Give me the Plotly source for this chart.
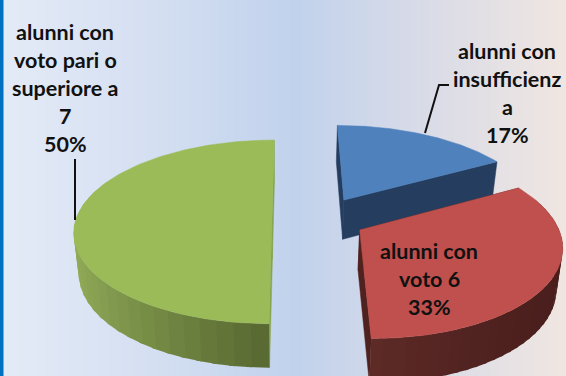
import numpy as np
import plotly.graph_objects as go

# Data
categories = ["alunni con insufficienza", "alunni con voto 6", "alunni con voto pari o superiore a 7"]
values = [17, 33, 50]
label_lines = [
    ["alunni con", "insufficienz", "a"],
    ["alunni con", "voto 6"],
    ["alunni con", "voto pari o", "superiore a", "7"],
]

# Per-slice styling and explosion offsets on the pie's ground plane
top_colors = ["#4F81BD", "#BF504D", "#9BBB59"]
cut_colors = ["#253D5E", "#4F211F", "#86A24E"]
rim_colors = [("#253D5E", "#253D5E"), ("#5E2B27", "#491E1C"), ("#90AB58", "#55652F")]
explode_x = [55.5, 68.5, -18.0]
explode_y = [0.217, -0.12, 0.0]
label_x = [507, 429, 65]
label_y = [51, 251, 32]

# Pie camera model
VANISH_X, HORIZON_Y = 290.0, 219.0
RADIUS_X, RADIUS_Y = 196.0, 90.0
DEPTH_K, BASE_SHRINK, THICKNESS = 0.14, 0.977, 40.0
LINE_STEP = 28.1

bg_stops = [(0, "#E4EBF7"), (0.25, "#D6E0F2"), (0.52, "#C1D2EC"), (0.72, "#D6DAE8"), (1, "#F0E6E1")]


def project(X, Y, base=False):
    s = 1 / (1 + DEPTH_K * Y)
    shrink = BASE_SHRINK if base else 1.0
    x = VANISH_X + X * s * shrink
    y = HORIZON_Y - RADIUS_Y * Y * s * shrink + (THICKNESS * s if base else 0)
    return x, y


def mix(a, b, t):
    ca = [int(a[i:i + 2], 16) for i in (1, 3, 5)]
    cb = [int(b[i:i + 2], 16) for i in (1, 3, 5)]
    return "rgb(%d,%d,%d)" % tuple(round(p + (q - p) * t) for p, q in zip(ca, cb))


def poly(xs, ys, color, stroke=0.5):
    return go.Scatter(
        x=np.asarray(xs), y=np.asarray(ys), mode="lines", fill="toself",
        fillcolor=color, line=dict(color=color, width=stroke), hoverinfo="skip", showlegend=False,
    )


fig = go.Figure()

# Backdrop gradient
grad_x = np.linspace(0, 566, 114)
fig.add_trace(go.Heatmap(
    x=grad_x, y=[0, 376], z=[grad_x, grad_x], zmin=0, zmax=566, zsmooth="best",
    colorscale=[list(s) for s in bg_stops], showscale=False, hoverinfo="skip",
))

# Slices, back to front
total = sum(values)
edges = np.cumsum([0] + values) / total * 2 * np.pi
for i in range(len(values)):
    t0, t1 = edges[i], edges[i + 1]
    th = np.linspace(t0, t1, 121)
    X = explode_x[i] + RADIUS_X * np.sin(th)
    Y = explode_y[i] + np.cos(th)
    ax, ay = project(explode_x[i], explode_y[i])
    bx, by = project(explode_x[i], explode_y[i], base=True)
    tx, ty = project(X, Y)
    ux, uy = project(X, Y, base=True)

    # Cut faces run from the apex out to each end of the arc
    for k in (0, -1):
        fig.add_trace(poly([ax, tx[k], ux[k], bx, ax], [ay, ty[k], uy[k], by, ay], cut_colors[i]))

    # Outer wall, shaded in strips across its width; each strip overlaps the next
    step = 3
    span = (tx.min(), tx.max())
    for j in np.arange(0, len(th) - 1, step):
        e = min(j + step + 1, len(th) - 1)
        if Y[j] > explode_y[i] + 0.3 and Y[e] > explode_y[i] + 0.3:
            continue
        f = ((tx[j] + tx[e]) / 2 - span[0]) / (span[1] - span[0])
        color = mix(rim_colors[i][0], rim_colors[i][1], f ** 0.8)
        fig.add_trace(poly(
            [tx[j], tx[e], ux[e], ux[j], tx[j]],
            [ty[j], ty[e], uy[e], uy[j], ty[j]],
            color, stroke=0,
        ))

    # Top face
    fig.add_trace(poly(np.r_[ax, tx, ax], np.r_[ay, ty, ay], top_colors[i]))

# Leader lines
for lx, ly in (([75, 75], [159, 220]), ([449, 439, 425], [85, 85, 133])):
    fig.add_trace(go.Scatter(x=lx, y=ly, mode="lines", line=dict(color="#111111", width=2),
                             hoverinfo="skip", showlegend=False))

# Data labels, one annotation per line
for i, lines in enumerate(label_lines):
    rows = lines + ["%d%%" % round(values[i] / total * 100)]
    for n, text in enumerate(rows):
        fig.add_annotation(
            x=label_x[i], y=label_y[i] + n * LINE_STEP, text=text, showarrow=False,
            font=dict(family="Lato", size=21.5, color="#111111", weight="bold"),
            xanchor="center", yanchor="middle",
        )

# Blue edge along the left side
fig.add_shape(type="rect", x0=0, x1=3.5, y0=0, y1=376, fillcolor="#0070C0", line_width=0, layer="above")

fig.update_layout(
    width=566, height=376, margin=dict(l=0, r=0, t=0, b=0), showlegend=False,
    paper_bgcolor="#D6E0F2", plot_bgcolor="rgba(0,0,0,0)",
    xaxis=dict(range=[0, 566], visible=False, fixedrange=True),
    yaxis=dict(range=[376, 0], visible=False, fixedrange=True),
)
fig.write_html("out.html", config={"displayModeBar": False})
